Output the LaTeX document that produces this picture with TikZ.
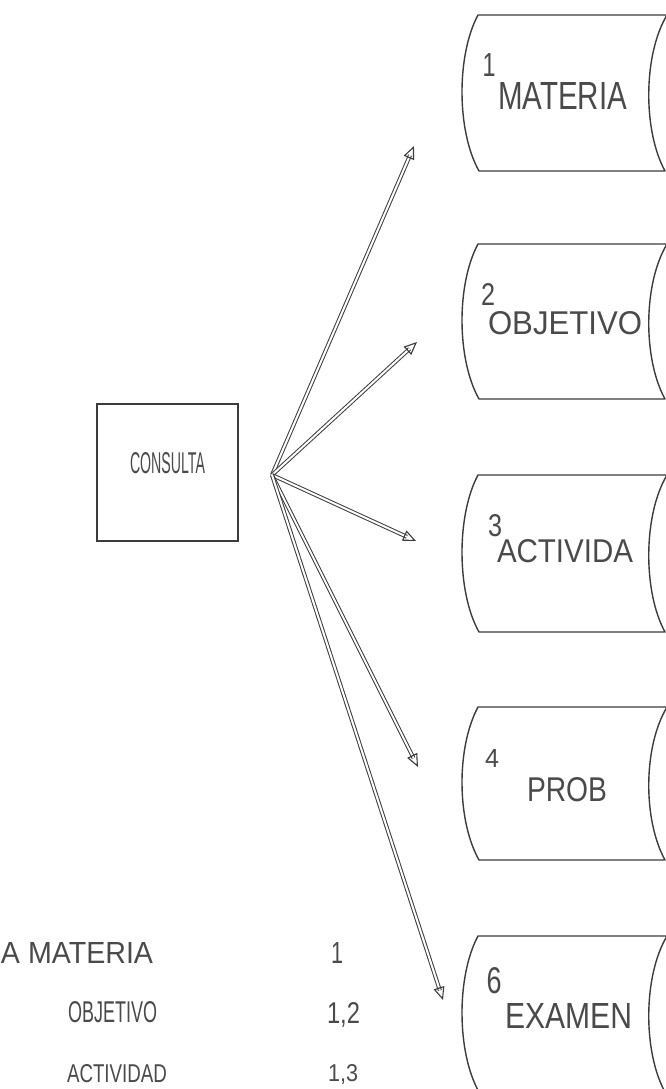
\documentclass[tikz,border=0pt]{standalone}
\usepackage{fontspec}
\setsansfont{Liberation Sans}
\usetikzlibrary{arrows.meta,calc}
\definecolor{lc}{HTML}{3C3C3C}
\definecolor{tc}{HTML}{4A4A4A}
\newcommand{\fit}[3]{\resizebox{#1pt}{#2pt}{\sffamily #3}}
\newcommand{\storeshape}[2]{%
  \draw[storeline] (478,#1) -- (667,#1)
    .. controls (643,#1+40) and (643,#2-40) .. (665,#2)
    -- (479,#2)
    .. controls (456.5,#2-40) and (456.5,#1+40) .. (478,#1) -- cycle;}
\newcommand{\dblarrow}[2]{%
  \draw[dbl] (#1) -- ($(#2)!10pt!(#1)$);
  \draw[ahead] ($(#2)!13pt!(#1)$) -- (#2);}
\begin{document}
\begin{tikzpicture}[x=1pt,y=-1pt,
  storeline/.style={draw=lc,line width=1.4pt,line join=round},
  lbl/.style={inner sep=0pt,outer sep=0pt,text=tc,anchor=south west},
  lblb/.style={inner sep=0pt,outer sep=0pt,text=tc,anchor=base west},
  num/.style={inner sep=0pt,outer sep=0pt,text=tc},
  procbox/.style={draw=lc,line width=1.4pt,minimum width=141pt,minimum height=137pt,inner sep=0pt},
  dbl/.style={draw=lc,double=white,double distance=2pt,line width=1pt},
  ahead/.style={draw=lc,line width=1.1pt,-{Triangle[open,length=13pt,width=11pt]}}]
\useasboundingbox (0,0) rectangle (666,1089);
\clip (0,0) rectangle (666,1089);
\fill[white] (0,0) rectangle (666,1089);

% process box
\node[procbox] (consulta) at (167.5,472.5) {};
\node[lbl] (tconsulta) at (130,474) {\fit{75}{21}{CONSULTA}};

% data stores
\storeshape{15}{171}
\storeshape{244}{399}
\storeshape{475}{632}
\storeshape{707}{860}
\storeshape{936}{1092}

\node[num] (n1) at (489,65) {\fit{13}{23}{1}};
\node[lbl] (s1) at (498,110) {\fit{129}{27}{MATERIA}};
\node[num] (n2) at (488,294) {\fit{14}{22}{2}};
\node[lbl] (s2) at (488,335) {\fit{154}{23}{OBJETIVO}};
\node[num] (n3) at (495,526) {\fit{14}{22}{3}};
\node[lbl] (s3) at (497,563) {\fit{136}{23}{ACTIVIDA}};
\node[num] (n4) at (492,758) {\fit{14}{18}{4}};
\node[lbl] (s4) at (527,802) {\fit{80}{24}{PROB}};
\node[num] (n6) at (494,981) {\fit{15}{26}{6}};
\node[lbl] (s6) at (505,1028) {\fit{127}{25}{EXAMEN}};

% arrows
\coordinate (hub) at (272,475);
\coordinate (t1) at (414,146);
\coordinate (t2) at (417,342);
\coordinate (t3) at (416,541);
\coordinate (t4) at (418,767);
\coordinate (t6) at (443,1000);
\dblarrow{hub}{t1}
\dblarrow{hub}{t2}
\dblarrow{hub}{t3}
\dblarrow{hub}{t4}
\dblarrow{hub}{t6}

% list
\node[lbl] (l1) at (1,963) {\fit{152}{21}{A MATERIA}};
\node[lbl] (l2) at (68,1023) {\fit{89}{21}{OBJETIVO}};
\node[lbl] (l3) at (67,1083) {\fit{100}{18}{ACTIVIDAD}};
\node[num] (r1) at (337,952.5) {\fit{12}{21}{1}};
\node[lblb] (r2) at (327,1023) {\fit{33}{21}{1,2}};
\node[lblb] (r3) at (328,1081) {\fit{30}{17}{1,3}};
\end{tikzpicture}
\end{document}
